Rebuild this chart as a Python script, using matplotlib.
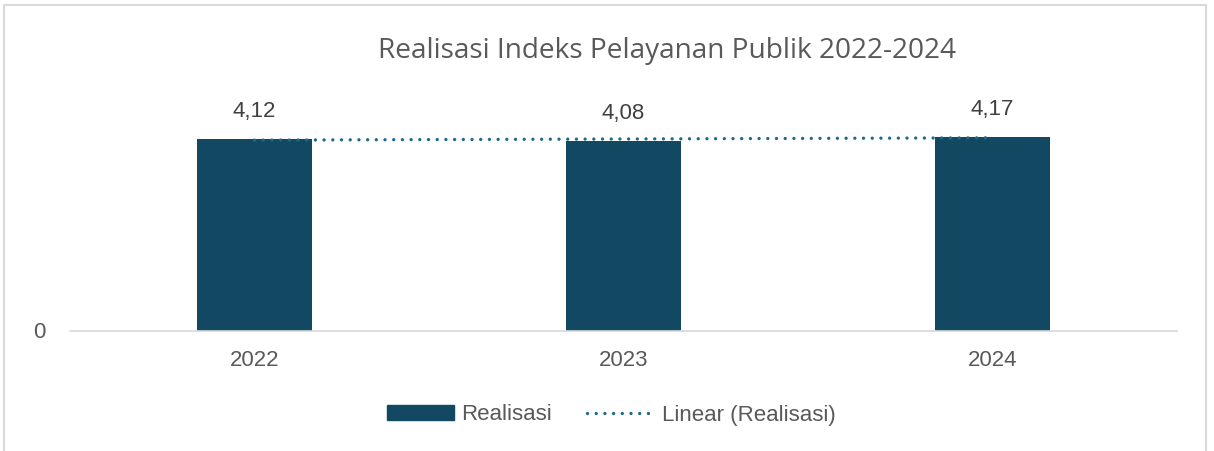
import numpy as np
import matplotlib
matplotlib.use("Agg")
import matplotlib.pyplot as plt
from matplotlib.patches import Rectangle
from matplotlib.lines import Line2D

# data
years = ["2022", "2023", "2024"]
realisasi = [4.12, 4.08, 4.17]
value_labels = ["4,12", "4,08", "4,17"]

bar_color = "#124862"
trend_color = "#1b6a8c"
text_gray = "#595959"
dots = (0, (0.01, 2.6))

W, H = 1214, 451
fig = plt.figure(figsize=(W / 100, H / 100), dpi=100)
fig.patch.set_facecolor("white")

# light chart-area border (top, left, right)
fig.add_artist(Rectangle((4 / W, -0.05), 1202 / W, 1.05 - 5 / H,
                         transform=fig.transFigure, fill=False,
                         edgecolor="#d9d9d9", linewidth=1.5))

# plot area: baseline at y=330.5 px, 46.45 px per unit
ymax = 5.0
ax = fig.add_axes([70 / W, (H - 330.5) / H, 1107 / W, ymax * 46.45 / H])
ax.set_xlim(-0.5, 2.5)
ax.set_ylim(0, ymax)

x = np.arange(len(years))
ax.bar(x, realisasi, width=0.31, color=bar_color, zorder=2, label="Realisasi")

# linear trend line through the bar values
slope, intercept = np.polyfit(x, realisasi, 1)
ax.plot(x, slope * x + intercept, color=trend_color, linewidth=2.4,
        linestyle=dots, dash_capstyle="round", zorder=3,
        label="Linear (Realisasi)")

for xi, v, lab in zip(x, realisasi, value_labels):
    ax.annotate(lab, (xi, v), xytext=(0, 12), textcoords="offset points",
                ha="center", va="bottom", fontsize=16, color="#404040",
                family="Liberation Sans", clip_on=False)

for s in ["top", "right", "left"]:
    ax.spines[s].set_visible(False)
ax.spines["bottom"].set_color("#d9d9d9")
ax.spines["bottom"].set_linewidth(1.2)

ax.set_xticks(x)
ax.set_xticklabels(years, fontsize=16, color=text_gray, family="Liberation Sans")
ax.set_yticks([0])
ax.set_yticklabels(["0"], fontsize=16, color=text_gray, family="Liberation Sans")
ax.tick_params(axis="both", length=0)
ax.tick_params(axis="x", pad=14)
ax.tick_params(axis="y", pad=18)

fig.text(667 / W, 1 - 51 / H, "Realisasi Indeks Pelayanan Publik 2022-2024",
         ha="center", va="center", fontsize=20.2, color=text_gray, family="Open Sans")

handles = [Rectangle((0, 0), 1, 1, color=bar_color),
           Line2D([0], [0], color=trend_color, linewidth=2.4,
                  linestyle=dots, dash_capstyle="round")]
fig.legend(handles, ["Realisasi", "Linear (Realisasi)"], loc="center",
           bbox_to_anchor=(611 / W, 1 - 415 / H), ncol=2, frameon=False,
           prop={"family": "Liberation Sans", "size": 16}, labelcolor=text_gray,
           handlelength=3.05, handleheight=0.65, handletextpad=0.3,
           columnspacing=1.6)

fig.savefig("out.png", dpi=100, facecolor="white")
